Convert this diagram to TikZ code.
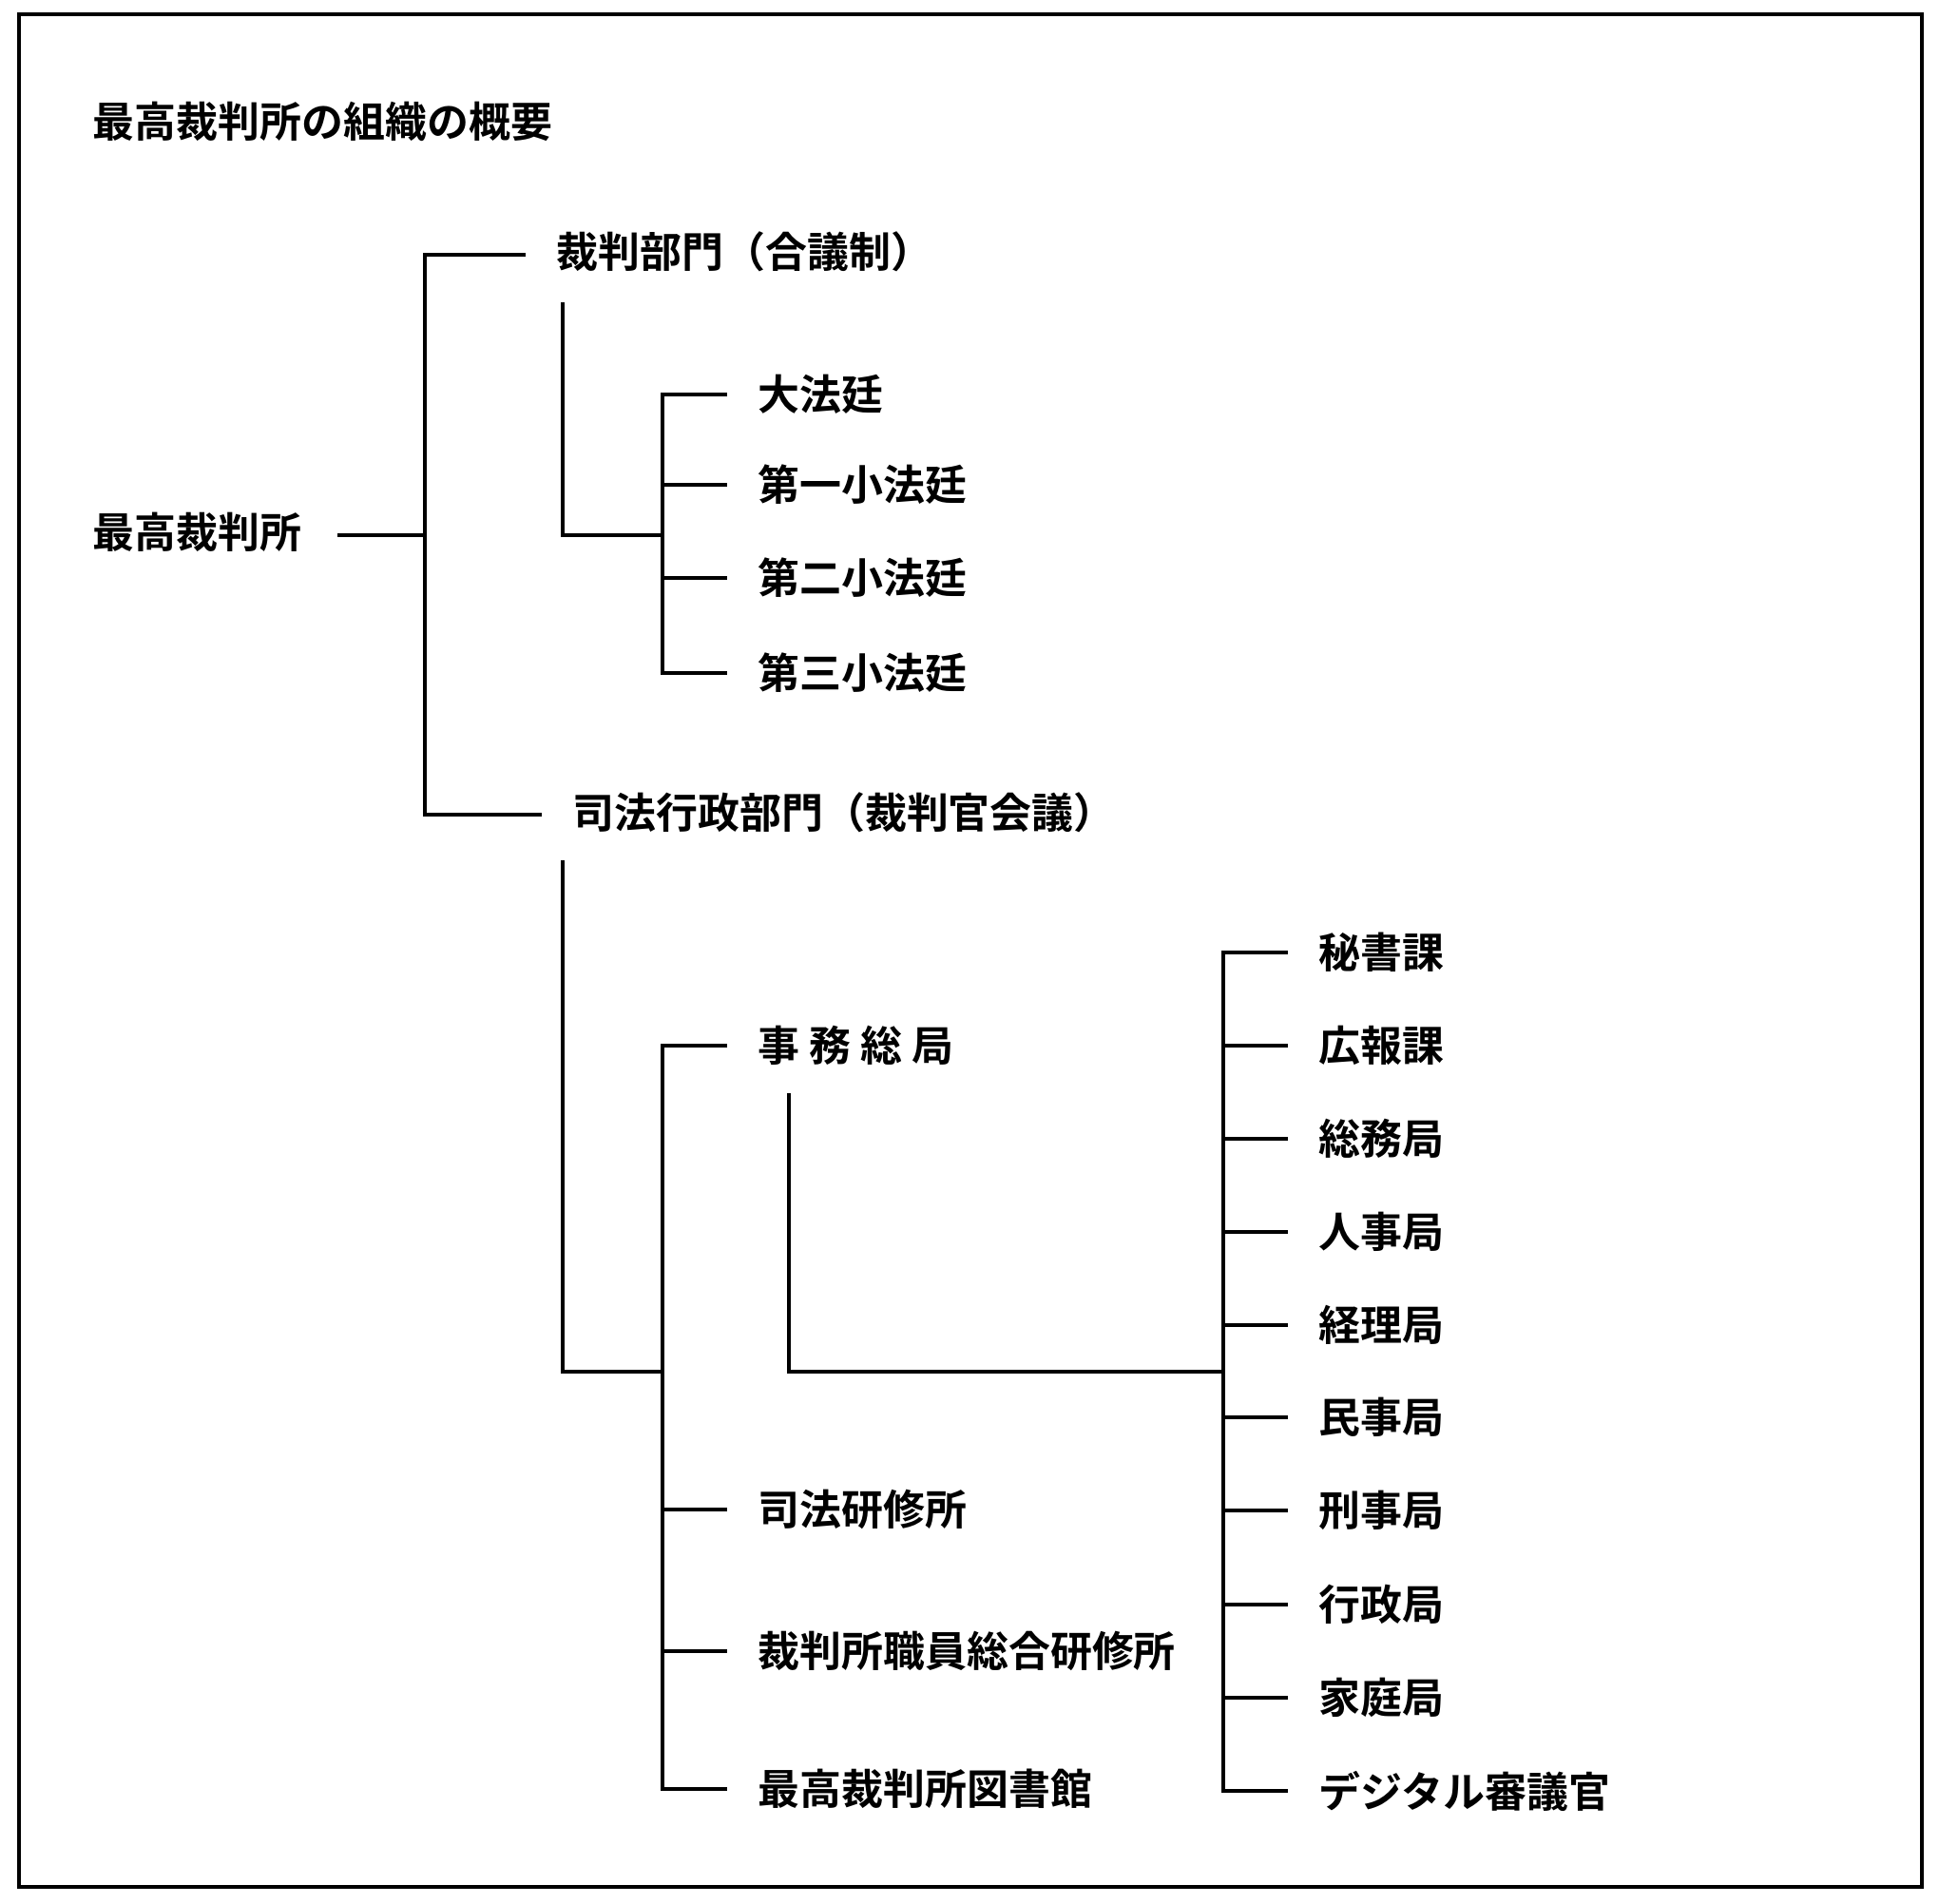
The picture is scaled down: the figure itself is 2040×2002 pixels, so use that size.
\documentclass[tikz,border=0pt]{standalone}
\usepackage{fontspec}
\setmainfont{Noto Sans CJK JP}[BoldFont={Noto Sans CJK JP Bold}]
\usetikzlibrary{positioning}

\tikzset{
  org/.style={anchor=west,inner xsep=9pt,inner ysep=0pt,font=\bfseries\fontsize{12.5}{15}\selectfont},
  link/.style={line width=1.1pt}
}

\begin{document}
\begin{tikzpicture}[x=0.01cm,y=-0.01cm]
  \useasboundingbox (0,0) rectangle (2040,2002);
  \draw[line width=1.2pt] (20,15) rectangle (2022,1985);

  \node[org,inner xsep=0pt] (title) at (97,128) {最高裁判所の組織の概要};

  % top level
  \node[org,inner xsep=0pt] (root) at (97,560) {最高裁判所};
  \node[org] (saiban) at (553,265) {裁判部門（合議制）};
  \node[org] (gyosei) at (570,855) {司法行政部門（裁判官会議）};
  \coordinate (j0) at (447,563);
  \draw[link] (355,563) -- (j0);
  \draw[link] (saiban.west |- 0,268) -| (j0) |- (gyosei.west |- 0,857);

  % courts
  \foreach \n/\t/\y in {dai/大法廷/415, sho1/第一小法廷/510, sho2/第二小法廷/608, sho3/第三小法廷/708}
    \node[org] (\n) at (765,\y) {\t};
  \coordinate (j1) at (697,563);
  \draw[link] (592,318) |- (j1);
  \draw[link] (dai.west) -| (j1) |- (sho3.west);
  \foreach \n in {sho1,sho2} \draw[link] (j1 |- \n) -- (\n.west);

  % administration
  \node[org] (jimu) at (765,1100) {事\ 務\ 総\ 局};
  \node[org] (kenshu) at (765,1588) {司法研修所};
  \node[org] (shokuin) at (765,1737) {裁判所職員総合研修所};
  \node[org] (tosho) at (765,1882) {最高裁判所図書館};
  \coordinate (j2) at (697,1443);
  \draw[link] (592,905) |- (j2);
  \draw[link] (jimu.west) -| (j2) |- (tosho.west);
  \foreach \n in {kenshu,shokuin} \draw[link] (j2 |- \n) -- (\n.west);

  % bureaus
  \foreach \n/\t/\y in {hisho/秘書課/1002, koho/広報課/1100, somu/総務局/1198, jinji/人事局/1296,
      keiri/経理局/1394, minji/民事局/1491, keiji/刑事局/1589, gyoseik/行政局/1688,
      katei/家庭局/1786, digital/デジタル審議官/1884}
    \node[org] (\n) at (1355,\y) {\t};
  \coordinate (j3) at (1287,1443);
  \draw[link] (830,1150) |- (j3);
  \draw[link] (hisho.west) -| (j3) |- (digital.west);
  \foreach \n in {koho,somu,jinji,keiri,minji,keiji,gyoseik,katei}
    \draw[link] (j3 |- \n) -- (\n.west);
\end{tikzpicture}
\end{document}
